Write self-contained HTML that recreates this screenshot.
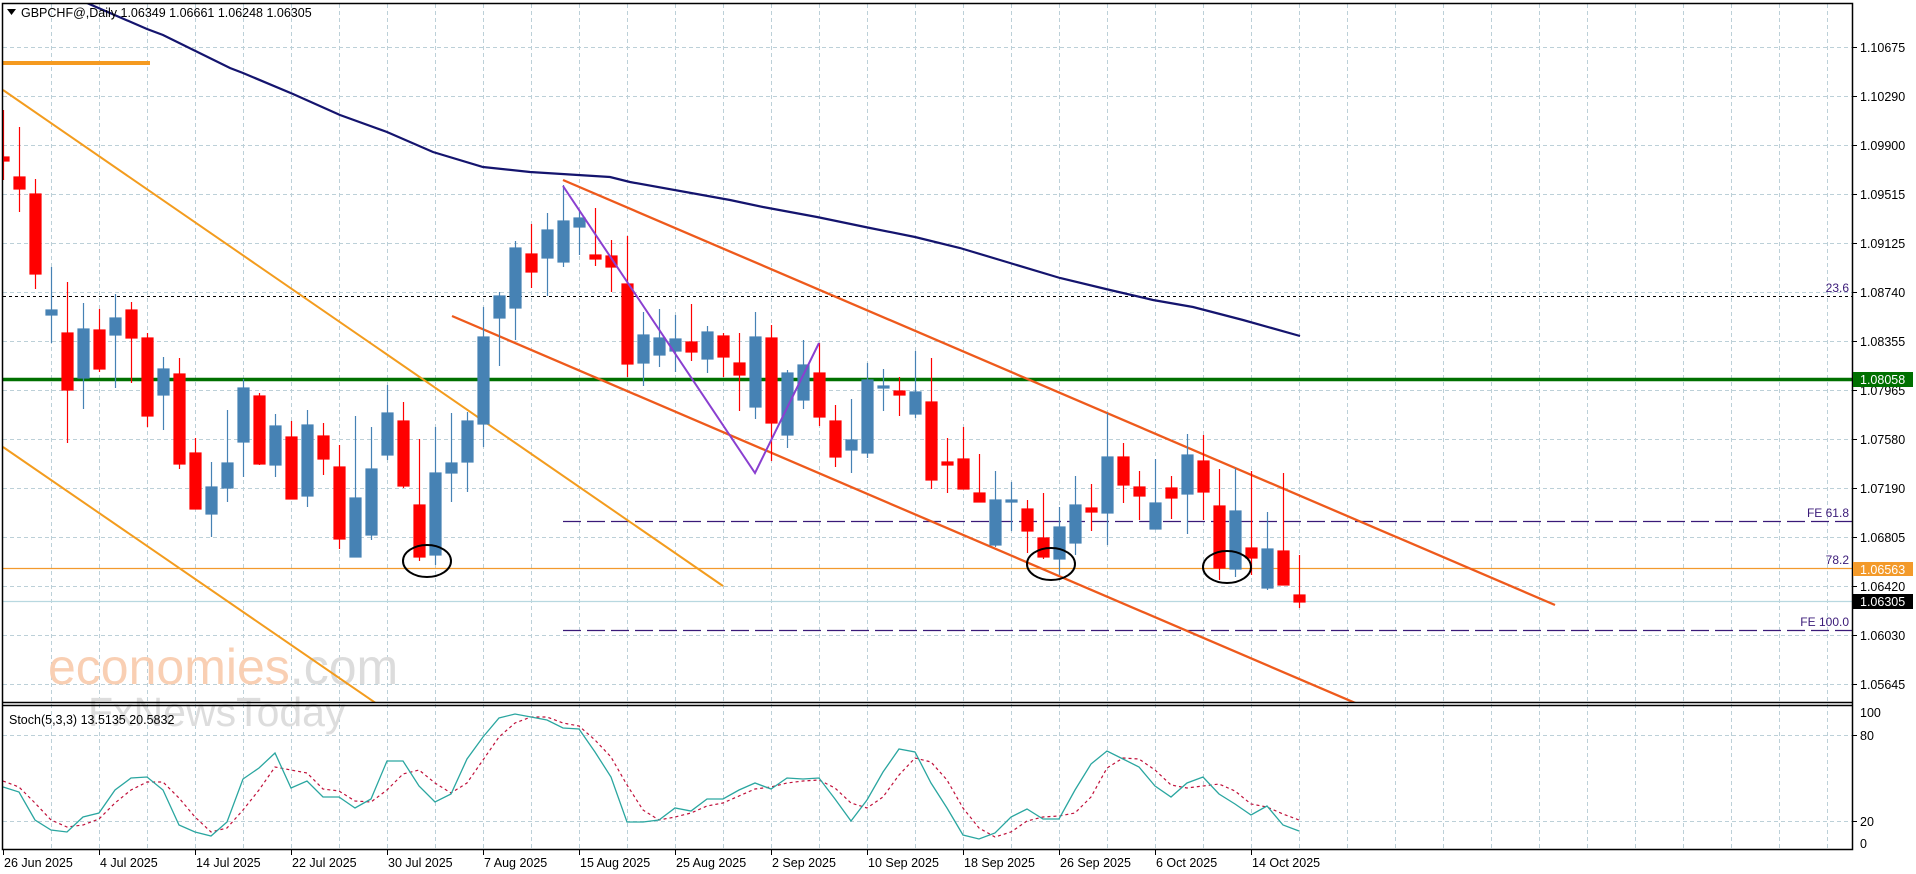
<!DOCTYPE html>
<html><head><meta charset="utf-8"><style>
html,body{margin:0;padding:0;background:#fff;width:1916px;height:874px;overflow:hidden}
svg{display:block;font-family:"Liberation Sans",sans-serif}
</style></head><body>
<svg width="1916" height="874" viewBox="0 0 1916 874" xmlns="http://www.w3.org/2000/svg">
<defs>
<clipPath id="mp"><rect x="3" y="4" width="1849" height="698"/></clipPath>
<clipPath id="sp"><rect x="3" y="705" width="1849" height="144"/></clipPath>
</defs>
<rect width="1916" height="874" fill="#fff"/>
<!-- grid main -->
<g stroke="#bcd0d8" stroke-width="1" stroke-dasharray="4,3" fill="none">
<path d="M3 47.5H1852M3 96.5H1852M3 145.5H1852M3 194.5H1852M3 243.5H1852M3 292.5H1852M3 341.5H1852M3 390.5H1852M3 439.5H1852M3 488.5H1852M3 537.5H1852M3 586.5H1852M3 635.5H1852M3 684.5H1852"/>
<path d="M3 735.5H1852M3 821.5H1852"/>
<path d="M51.5 4V849M99.5 4V849M147.5 4V849M195.5 4V849M243.5 4V849M291.5 4V849M339.5 4V849M387.5 4V849M435.5 4V849M483.5 4V849M531.5 4V849M579.5 4V849M627.5 4V849M675.5 4V849M723.5 4V849M771.5 4V849M819.5 4V849M867.5 4V849M915.5 4V849M963.5 4V849M1011.5 4V849M1059.5 4V849M1107.5 4V849M1155.5 4V849M1203.5 4V849M1251.5 4V849M1299.5 4V849M1347.5 4V849M1395.5 4V849M1443.5 4V849M1491.5 4V849M1539.5 4V849M1587.5 4V849M1635.5 4V849M1683.5 4V849M1731.5 4V849M1779.5 4V849M1827.5 4V849"/>
</g>
<!-- watermark -->
<text x="48" y="684" font-size="50" fill="#f9cfb3">economies<tspan fill="#dcdcdc">.com</tspan></text>
<text x="88" y="726" font-size="41" fill="#dddddd">FxNewsToday</text>
<g clip-path="url(#mp)">
<!-- horizontal levels -->
<path d="M3 296.5H1852" stroke="#000" stroke-dasharray="3,3" stroke-width="1"/>
<path d="M3 379.5H1852" stroke="#007000" stroke-width="3.5"/>
<path d="M3 568.5H1852" stroke="#f29a2e" stroke-width="1.3"/>
<path d="M3 601.5H1852" stroke="#b8d8e0" stroke-width="1.2"/>
<path d="M563 521.5H1852M563 630.5H1852" stroke="#3a1a78" stroke-width="1.3" stroke-dasharray="18,6"/>
<path d="M3 63H150" stroke="#f59a20" stroke-width="4"/>
<!-- orange diag -->
<path d="M3 90L723 586M3 447L380 706" stroke="#f39c1e" stroke-width="2" fill="none"/>
<!-- red channel -->
<path d="M563 180L1555 605M452 316L1360 705" stroke="#ee5a1c" stroke-width="2.3" fill="none"/>
<!-- MA -->
<polyline fill="none" stroke="#14146e" stroke-width="2.2" points="60,-10 80,0 147,29 163,35 230,68 243,73 293,94 340,115 387,132 433,152 483,167 530,172 610,177 630,182 730,200 763,207 817,217 870,228 915,237 960,248 1010,263 1060,278 1110,290 1153,300 1193,307 1243,320 1300,336"/>
<!-- candles -->
<g stroke-width="1.2">
<g stroke="#ff0000" fill="#ff0000">
<line x1="3.5" y1="110" x2="3.5" y2="180"/><rect x="-2" y="157" width="11" height="4"/>
<line x1="19.5" y1="127" x2="19.5" y2="212"/><rect x="14" y="177" width="11" height="12"/>
<line x1="35.5" y1="179" x2="35.5" y2="289"/><rect x="30" y="194" width="11" height="80"/>
<line x1="67.5" y1="282" x2="67.5" y2="443"/><rect x="62" y="333" width="11" height="57"/>
<line x1="99.5" y1="309" x2="99.5" y2="372"/><rect x="94" y="330" width="11" height="39"/>
<line x1="131.5" y1="302" x2="131.5" y2="383"/><rect x="126" y="310" width="11" height="28"/>
<line x1="147.5" y1="333" x2="147.5" y2="427"/><rect x="142" y="338" width="11" height="78"/>
<line x1="179.5" y1="358" x2="179.5" y2="469"/><rect x="174" y="374" width="11" height="90"/>
<line x1="195.5" y1="438" x2="195.5" y2="509"/><rect x="190" y="453" width="11" height="56"/>
<line x1="259.5" y1="393" x2="259.5" y2="465"/><rect x="254" y="396" width="11" height="68"/>
<line x1="291.5" y1="421" x2="291.5" y2="499"/><rect x="286" y="437" width="11" height="62"/>
<line x1="323.5" y1="423" x2="323.5" y2="475"/><rect x="318" y="436" width="11" height="23"/>
<line x1="339.5" y1="445" x2="339.5" y2="549"/><rect x="334" y="467" width="11" height="72"/>
<line x1="403.5" y1="402" x2="403.5" y2="488"/><rect x="398" y="421" width="11" height="65"/>
<line x1="419.5" y1="439" x2="419.5" y2="561"/><rect x="414" y="505" width="11" height="52"/>
<line x1="531.5" y1="224" x2="531.5" y2="288"/><rect x="526" y="254" width="11" height="18"/>
<line x1="595.5" y1="208" x2="595.5" y2="266"/><rect x="590" y="255" width="11" height="4"/>
<line x1="611.5" y1="240" x2="611.5" y2="292"/><rect x="606" y="256" width="11" height="11"/>
<line x1="627.5" y1="236" x2="627.5" y2="377"/><rect x="622" y="284" width="11" height="80"/>
<line x1="691.5" y1="304" x2="691.5" y2="361"/><rect x="686" y="342" width="11" height="10"/>
<line x1="723.5" y1="333" x2="723.5" y2="377"/><rect x="718" y="336" width="11" height="21"/>
<line x1="739.5" y1="333" x2="739.5" y2="411"/><rect x="734" y="363" width="11" height="12"/>
<line x1="771.5" y1="325" x2="771.5" y2="461"/><rect x="766" y="338" width="11" height="85"/>
<line x1="819.5" y1="343" x2="819.5" y2="426"/><rect x="814" y="373" width="11" height="44"/>
<line x1="835.5" y1="405" x2="835.5" y2="467"/><rect x="830" y="421" width="11" height="36"/>
<line x1="899.5" y1="377" x2="899.5" y2="416"/><rect x="894" y="391" width="11" height="4"/>
<line x1="931.5" y1="358" x2="931.5" y2="489"/><rect x="926" y="402" width="11" height="78"/>
<line x1="947.5" y1="438" x2="947.5" y2="493"/><rect x="942" y="462" width="11" height="3"/>
<line x1="963.5" y1="427" x2="963.5" y2="489"/><rect x="958" y="459" width="11" height="30"/>
<line x1="979.5" y1="454" x2="979.5" y2="502"/><rect x="974" y="493" width="11" height="9"/>
<line x1="1027.5" y1="500" x2="1027.5" y2="553"/><rect x="1022" y="509" width="11" height="22"/>
<line x1="1043.5" y1="493" x2="1043.5" y2="559"/><rect x="1038" y="538" width="11" height="19"/>
<line x1="1091.5" y1="484" x2="1091.5" y2="531"/><rect x="1086" y="508" width="11" height="4"/>
<line x1="1123.5" y1="443" x2="1123.5" y2="503"/><rect x="1118" y="457" width="11" height="28"/>
<line x1="1139.5" y1="471" x2="1139.5" y2="520"/><rect x="1134" y="487" width="11" height="9"/>
<line x1="1171.5" y1="476" x2="1171.5" y2="519"/><rect x="1166" y="488" width="11" height="10"/>
<line x1="1203.5" y1="435" x2="1203.5" y2="520"/><rect x="1198" y="461" width="11" height="31"/>
<line x1="1219.5" y1="469" x2="1219.5" y2="580"/><rect x="1214" y="506" width="11" height="62"/>
<line x1="1251.5" y1="471" x2="1251.5" y2="575"/><rect x="1246" y="548" width="11" height="10"/>
<line x1="1283.5" y1="473" x2="1283.5" y2="585"/><rect x="1278" y="551" width="11" height="34"/>
<line x1="1299.5" y1="555" x2="1299.5" y2="608"/><rect x="1294" y="595" width="11" height="7"/>
</g>
<g stroke="#4682b4" fill="#4682b4">
<line x1="51.5" y1="267" x2="51.5" y2="343"/><rect x="46" y="310" width="11" height="5"/>
<line x1="83.5" y1="303" x2="83.5" y2="409"/><rect x="78" y="329" width="11" height="49"/>
<line x1="115.5" y1="294" x2="115.5" y2="388"/><rect x="110" y="318" width="11" height="17"/>
<line x1="163.5" y1="357" x2="163.5" y2="430"/><rect x="158" y="369" width="11" height="26"/>
<line x1="211.5" y1="462" x2="211.5" y2="537"/><rect x="206" y="487" width="11" height="27"/>
<line x1="227.5" y1="410" x2="227.5" y2="502"/><rect x="222" y="463" width="11" height="25"/>
<line x1="243.5" y1="379" x2="243.5" y2="477"/><rect x="238" y="388" width="11" height="54"/>
<line x1="275.5" y1="414" x2="275.5" y2="477"/><rect x="270" y="426" width="11" height="39"/>
<line x1="307.5" y1="410" x2="307.5" y2="507"/><rect x="302" y="425" width="11" height="71"/>
<line x1="355.5" y1="416" x2="355.5" y2="557"/><rect x="350" y="498" width="11" height="59"/>
<line x1="371.5" y1="427" x2="371.5" y2="540"/><rect x="366" y="469" width="11" height="66"/>
<line x1="387.5" y1="385" x2="387.5" y2="460"/><rect x="382" y="413" width="11" height="42"/>
<line x1="435.5" y1="427" x2="435.5" y2="565"/><rect x="430" y="473" width="11" height="82"/>
<line x1="451.5" y1="413" x2="451.5" y2="502"/><rect x="446" y="463" width="11" height="10"/>
<line x1="467.5" y1="412" x2="467.5" y2="492"/><rect x="462" y="421" width="11" height="41"/>
<line x1="483.5" y1="307" x2="483.5" y2="447"/><rect x="478" y="337" width="11" height="87"/>
<line x1="499.5" y1="292" x2="499.5" y2="366"/><rect x="494" y="296" width="11" height="22"/>
<line x1="515.5" y1="241" x2="515.5" y2="340"/><rect x="510" y="248" width="11" height="60"/>
<line x1="547.5" y1="213" x2="547.5" y2="296"/><rect x="542" y="230" width="11" height="28"/>
<line x1="563.5" y1="185" x2="563.5" y2="267"/><rect x="558" y="221" width="11" height="41"/>
<line x1="579.5" y1="210" x2="579.5" y2="255"/><rect x="574" y="218" width="11" height="9"/>
<line x1="643.5" y1="312" x2="643.5" y2="386"/><rect x="638" y="335" width="11" height="28"/>
<line x1="659.5" y1="309" x2="659.5" y2="367"/><rect x="654" y="338" width="11" height="17"/>
<line x1="675.5" y1="315" x2="675.5" y2="372"/><rect x="670" y="339" width="11" height="12"/>
<line x1="707.5" y1="326" x2="707.5" y2="373"/><rect x="702" y="332" width="11" height="27"/>
<line x1="755.5" y1="312" x2="755.5" y2="419"/><rect x="750" y="337" width="11" height="70"/>
<line x1="787.5" y1="370" x2="787.5" y2="448"/><rect x="782" y="373" width="11" height="62"/>
<line x1="803.5" y1="340" x2="803.5" y2="409"/><rect x="798" y="365" width="11" height="35"/>
<line x1="851.5" y1="399" x2="851.5" y2="473"/><rect x="846" y="440" width="11" height="10"/>
<line x1="867.5" y1="363" x2="867.5" y2="458"/><rect x="862" y="380" width="11" height="73"/>
<line x1="883.5" y1="369" x2="883.5" y2="411"/><rect x="878" y="386" width="11" height="2"/>
<line x1="915.5" y1="351" x2="915.5" y2="418"/><rect x="910" y="392" width="11" height="22"/>
<line x1="995.5" y1="471" x2="995.5" y2="547"/><rect x="990" y="500" width="11" height="45"/>
<line x1="1011.5" y1="482" x2="1011.5" y2="531"/><rect x="1006" y="500" width="11" height="2"/>
<line x1="1059.5" y1="507" x2="1059.5" y2="575"/><rect x="1054" y="527" width="11" height="32"/>
<line x1="1075.5" y1="476" x2="1075.5" y2="555"/><rect x="1070" y="505" width="11" height="38"/>
<line x1="1107.5" y1="413" x2="1107.5" y2="545"/><rect x="1102" y="457" width="11" height="56"/>
<line x1="1155.5" y1="459" x2="1155.5" y2="529"/><rect x="1150" y="503" width="11" height="26"/>
<line x1="1187.5" y1="434" x2="1187.5" y2="534"/><rect x="1182" y="455" width="11" height="39"/>
<line x1="1235.5" y1="468" x2="1235.5" y2="577"/><rect x="1230" y="511" width="11" height="58"/>
<line x1="1267.5" y1="512" x2="1267.5" y2="590"/><rect x="1262" y="549" width="11" height="39"/>
</g>
</g>
<!-- purple zigzag -->
<polyline points="563,186 755,473 819,343" fill="none" stroke="#8a3fd0" stroke-width="2"/>
<!-- ellipses -->
<g fill="none" stroke="#000" stroke-width="2">
<ellipse cx="427" cy="561" rx="24" ry="16"/>
<ellipse cx="1051" cy="564" rx="24" ry="16"/>
<ellipse cx="1227" cy="567" rx="24" ry="16"/>
</g>
</g>
<!-- level labels -->
<g font-size="12" fill="#3a1a78" text-anchor="end">
<text x="1849" y="292">23.6</text>
<text x="1849" y="517">FE 61.8</text>
<text x="1849" y="564">78.2</text>
<text x="1849" y="626">FE 100.0</text>
</g>
<!-- title -->
<path d="M7 9h9l-4.5 6z" fill="#000"/>
<text x="21" y="17" font-size="12.5" fill="#000">GBPCHF@,Daily  1.06349 1.06661 1.06248 1.06305</text>
<!-- stoch -->
<g clip-path="url(#sp)">
<polyline fill="none" stroke="#c0103a" stroke-width="1.2" stroke-dasharray="3,3" points="3,781 19,787 35,803 51,820 67,827 83,825 99,819 115,803 131,790 147,782 163,782 179,798 195,817 211,832 227,828 243,810 259,790 275,767 291,770 307,773 323,789 339,791 355,801 371,802 387,790 403,774 419,770 435,783 451,793 467,783 483,760 499,737 515,723 531,717 547,717 563,723 579,726 595,740 611,757 627,785 643,810 659,820 675,817 691,813 707,806 723,803 739,796 755,789 771,787 787,783 803,781 819,780 835,788 851,803 867,808 883,797 899,775 915,758 931,762 947,780 963,808 979,828 995,837 1011,832 1027,821 1043,817 1059,816 1075,813 1091,797 1107,768 1123,758 1139,759 1155,770 1171,785 1187,788 1203,786 1219,784 1235,791 1251,804 1267,807 1283,814 1299,820"/>
<polyline fill="none" stroke="#2aa6a0" stroke-width="1.3" points="3,787 19,792 35,820 51,830 67,832 83,817 99,813 115,790 131,778 147,777 163,790 179,825 195,832 211,836 227,822 243,779 259,768 275,753 291,788 307,781 323,797 339,797 355,808 371,799 387,761 403,761 419,786 435,802 451,794 467,759 483,737 499,718 515,714 531,717 547,720 563,728 579,729 595,752 611,777 627,822 643,822 659,820 675,808 691,811 707,799 723,799 739,790 755,783 771,789 787,778 803,779 819,778 835,799 851,821 867,800 883,772 899,749 915,752 931,783 947,808 963,835 979,839 995,833 1011,817 1027,809 1043,819 1059,819 1075,790 1091,764 1107,751 1123,759 1139,767 1155,786 1171,797 1187,783 1203,777 1219,794 1235,804 1251,815 1267,806 1283,825 1299,831"/>
</g>
<text x="9" y="724" font-size="12.5" fill="#000">Stoch(5,3,3) 13.5135 20.5832</text>
<!-- frames -->
<g stroke="#000" fill="none" stroke-width="1.5">
<path d="M2.5 3.5H1852.5V849.5H2.5Z"/>
<path d="M2.5 702.5H1852.5M2.5 705.5H1852.5"/>
</g>
<!-- price axis -->
<g stroke="#000" stroke-width="1">
<path d="M1852 47.5h5M1852 96.5h5M1852 145.5h5M1852 194.5h5M1852 243.5h5M1852 292.5h5M1852 341.5h5M1852 390.5h5M1852 439.5h5M1852 488.5h5M1852 537.5h5M1852 586.5h5M1852 635.5h5M1852 684.5h5M1852 735.5h5M1852 821.5h5"/>
<path d="M3.5 849v6M99.5 849v6M195.5 849v6M291.5 849v6M387.5 849v6M483.5 849v6M579.5 849v6M675.5 849v6M771.5 849v6M867.5 849v6M963.5 849v6M1059.5 849v6M1155.5 849v6M1251.5 849v6"/>
</g>
<g font-size="12.5" fill="#000">
<text x="1860" y="52">1.10675</text>
<text x="1860" y="101">1.10290</text>
<text x="1860" y="150">1.09900</text>
<text x="1860" y="199">1.09515</text>
<text x="1860" y="248">1.09125</text>
<text x="1860" y="297">1.08740</text>
<text x="1860" y="346">1.08355</text>
<text x="1860" y="395">1.07965</text>
<text x="1860" y="444">1.07580</text>
<text x="1860" y="493">1.07190</text>
<text x="1860" y="542">1.06805</text>
<text x="1860" y="591">1.06420</text>
<text x="1860" y="640">1.06030</text>
<text x="1860" y="689">1.05645</text>
<text x="1860" y="717">100</text>
<text x="1860" y="740">80</text>
<text x="1860" y="826">20</text>
<text x="1860" y="848">0</text>
</g>
<rect x="1853" y="372" width="60" height="15" fill="#007000"/>
<text x="1860" y="384" font-size="12.5" fill="#fff">1.08058</text>
<rect x="1853" y="562" width="60" height="14" fill="#f39a2a"/>
<text x="1860" y="574" font-size="12.5" fill="#fff">1.06563</text>
<rect x="1853" y="594" width="60" height="15" fill="#000"/>
<text x="1860" y="606" font-size="12.5" fill="#fff">1.06305</text>
<!-- dates -->
<g font-size="12.5" fill="#000">
<text x="4" y="867">26 Jun 2025</text>
<text x="100" y="867">4 Jul 2025</text>
<text x="196" y="867">14 Jul 2025</text>
<text x="292" y="867">22 Jul 2025</text>
<text x="388" y="867">30 Jul 2025</text>
<text x="484" y="867">7 Aug 2025</text>
<text x="580" y="867">15 Aug 2025</text>
<text x="676" y="867">25 Aug 2025</text>
<text x="772" y="867">2 Sep 2025</text>
<text x="868" y="867">10 Sep 2025</text>
<text x="964" y="867">18 Sep 2025</text>
<text x="1060" y="867">26 Sep 2025</text>
<text x="1156" y="867">6 Oct 2025</text>
<text x="1252" y="867">14 Oct 2025</text>
</g>
</svg>
</body></html>
